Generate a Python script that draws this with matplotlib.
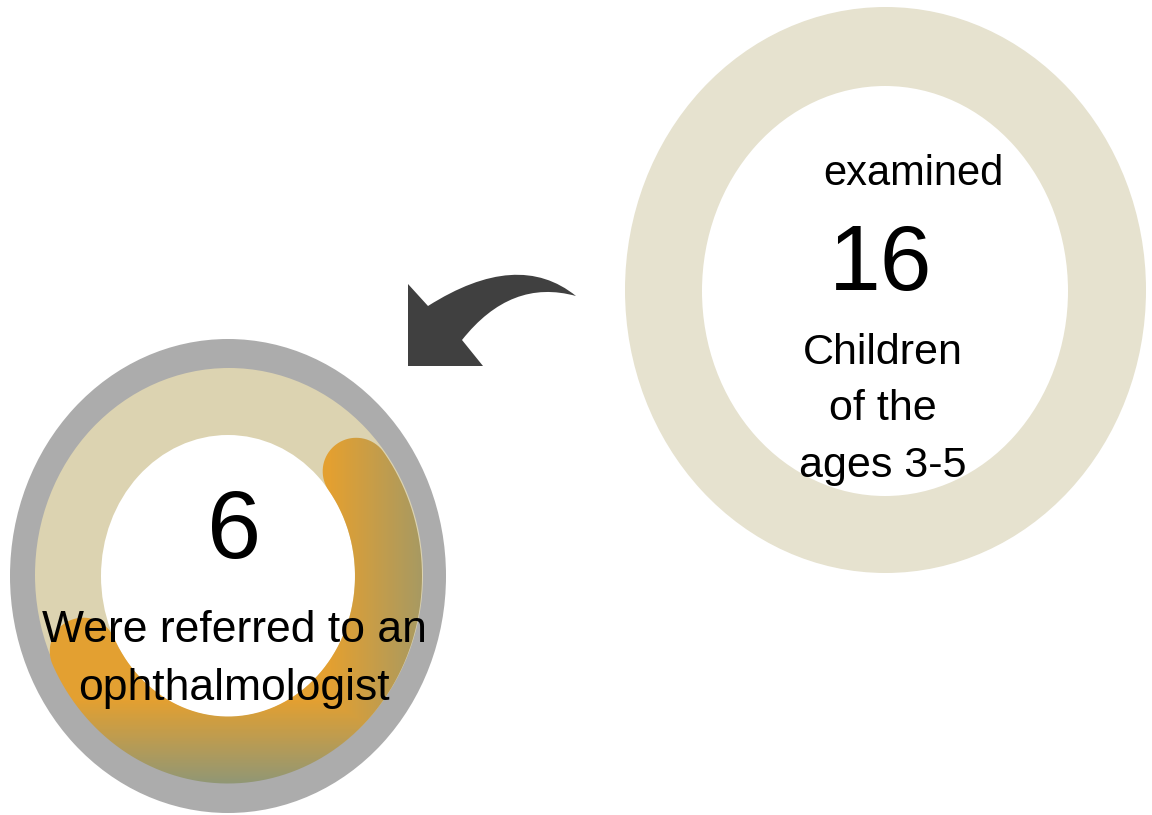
import numpy as np
import matplotlib
matplotlib.use("Agg")
from matplotlib import pyplot as plt
from matplotlib.patches import Ellipse, PathPatch
from matplotlib.path import Path

plt.rcParams['font.family'] = ['Liberation Sans', 'DejaVu Sans']

# numbers shown in the two rings
examined = 16
referred = 6
examined_lines = ["Children", "of the", "ages 3-5"]
referred_lines = ["Were referred to an", "ophthalmologist"]

W, H = 1152, 815
fig = plt.figure(figsize=(W / 100, H / 100), dpi=100)
ax = fig.add_axes([0, 0, 1, 1])
ax.set_xlim(0, W)
ax.set_ylim(H, 0)
ax.axis("off")

# right ring
ax.add_patch(Ellipse((885.5, 290), 521, 566, color="#E6E2CF", lw=0))
ax.add_patch(Ellipse((885, 291), 366, 410, color="white", lw=0))

# left ring: gray border, beige track, white hole
cx, cy = 228, 576
ax.add_patch(Ellipse((cx, cy), 436, 474, color="#ACACAC", lw=0))
ax.add_patch(Ellipse((229, 575), 388, 414, color="#DCD3B1", lw=0))
ax.add_patch(Ellipse((cx, cy), 254, 282, color="white", lw=0))

# orange progress arc with round caps, built as a polygon
a, b = 160.5, 174.0
half = 33.5
th = np.radians(np.linspace(37, -154.4, 300))
px = cx + a * np.cos(th)
py = cy - b * np.sin(th)
tx, ty = np.gradient(px), np.gradient(py)
norm = np.hypot(tx, ty)
tx, ty = tx / norm, ty / norm
nx, ny = -ty, tx
outer = np.column_stack([px + half * nx, py + half * ny])
inner = np.column_stack([px - half * nx, py - half * ny])
phi = np.linspace(0, np.pi, 40)
end_cap = np.column_stack([
    px[-1] + half * (np.cos(phi) * nx[-1] + np.sin(phi) * tx[-1]),
    py[-1] + half * (np.cos(phi) * ny[-1] + np.sin(phi) * ty[-1])])
start_cap = np.column_stack([
    px[0] + half * (-np.cos(phi) * nx[0] - np.sin(phi) * tx[0]),
    py[0] + half * (-np.cos(phi) * ny[0] - np.sin(phi) * ty[0])])
verts = np.vstack([outer, end_cap, inner[::-1], start_cap, outer[:1]])
clip = PathPatch(Path(verts), facecolor="none", edgecolor="none")
ax.add_patch(clip)

# rectangular gradient: orange inside, olive toward right and bottom edges
gx, gy = np.meshgrid(np.arange(0, 470), np.arange(330, 815))
t = np.maximum((gx - 330) / 130, (gy - 700) / 85)
t = np.clip(t, 0, 1)[..., None]
c0 = np.array([227, 160, 49]) / 255
c1 = np.array([142, 151, 119]) / 255
img = (1 - t) * c0 + t * c1
im = ax.imshow(img, extent=(0, 470, 815, 330), origin="upper",
               interpolation="bilinear", zorder=3)
im.set_clip_path(clip)
ax.set_xlim(0, W)
ax.set_ylim(H, 0)

# curved arrow
arrow_verts = [(408, 284), (428, 306), (518, 249), (576, 296),
               (511, 278), (462, 340), (483, 366), (408, 366), (408, 284)]
arrow_codes = [Path.MOVETO, Path.LINETO, Path.CURVE3, Path.CURVE3,
               Path.CURVE3, Path.CURVE3, Path.LINETO, Path.LINETO,
               Path.CLOSEPOLY]
ax.add_patch(PathPatch(Path(arrow_verts, arrow_codes), facecolor="#404040",
                       edgecolor="none", zorder=4))

# texts
ax.text(913, 185, "examined", fontsize=30, ha="center", va="baseline", zorder=5)
ax.text(881, 290, str(examined), fontsize=67, ha="center", va="baseline", zorder=5)
for i, line in enumerate(examined_lines):
    ax.text(883, 364 + 56.5 * i, line, fontsize=31, ha="center",
            va="baseline", zorder=5)

ax.text(234, 558, str(referred), fontsize=70, ha="center", va="baseline", zorder=5)
for i, line in enumerate(referred_lines):
    ax.text(234, 642 + 58 * i, line, fontsize=32, ha="center",
            va="baseline", zorder=5)

fig.savefig("out.png", dpi=100, facecolor="white")
